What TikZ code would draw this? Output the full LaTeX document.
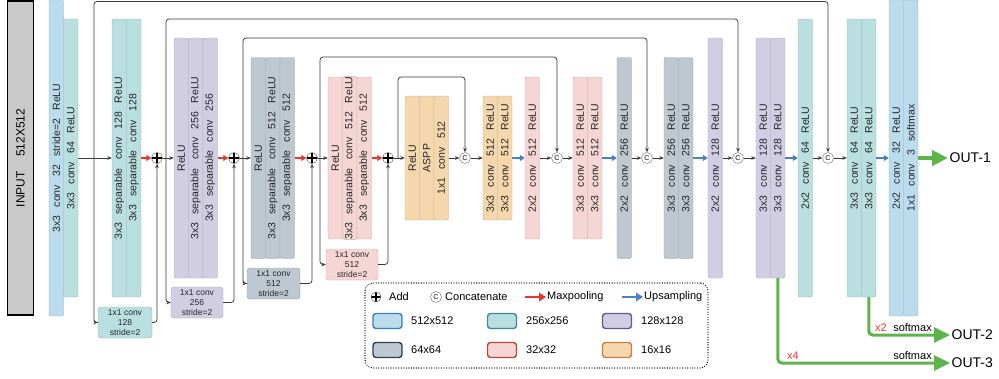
\documentclass[tikz,border=0pt]{standalone}
\usepackage{fontspec}
\setmainfont{Liberation Sans}
\usetikzlibrary{arrows.meta}

% level colours (fill) and legend edge colours
\definecolor{fA}{HTML}{BADCEC}
\definecolor{fB}{HTML}{B9DFE0}
\definecolor{fC}{HTML}{D1CEE3}
\definecolor{fD}{HTML}{BDC8D1}
\definecolor{fE}{HTML}{F5D6D4}
\definecolor{fF}{HTML}{F4D7AC}
\definecolor{kA}{HTML}{3B80B6}
\definecolor{kB}{HTML}{3A8C8F}
\definecolor{kC}{HTML}{5C5A95}
\definecolor{kD}{HTML}{2E3F50}
\definecolor{kE}{HTML}{B5463D}
\definecolor{kF}{HTML}{C67E36}
\definecolor{wirecol}{HTML}{383838}
\definecolor{poolred}{HTML}{E8362C}
\definecolor{upblue}{HTML}{4E7EC3}
\definecolor{outgreen}{HTML}{5DB44B}
\definecolor{inputgray}{HTML}{C9C9C9}

\newcommand{\blkfont}{\fontsize{10.5}{12}\selectfont\spaceskip=0.8em\relax}

\tikzset{
  blk/.style={rotate=90, rounded corners=2pt, inner sep=0pt, fill=f#1,
    draw=f#1!82!black, line width=0.45pt, minimum height=14.5pt,
    font=\blkfont, text=black!85},
  lvA/.style={blk=A, minimum width=316pt},
  lvB/.style={blk=B, minimum width=278pt},
  lvC/.style={blk=C, minimum width=240pt},
  lvD/.style={blk=D, minimum width=201pt},
  lvE/.style={blk=E, minimum width=162pt},
  lvF/.style={blk=F, minimum width=124pt},
  res/.style={rounded corners=3pt, fill=f#1, draw=f#1!82!black, line width=0.45pt,
    minimum width=53pt, minimum height=31pt, inner sep=0pt, align=center,
    font=\fontsize{8.5}{10}\selectfont, text=black!85},
  wire/.style={draw=wirecol, line width=0.75pt, -{Stealth[length=4.5pt,width=3.6pt]}},
  skipline/.style={wire, rounded corners=3pt},
  pool/.style={draw=poolred, line width=1.8pt, -{Triangle[length=5pt,width=6pt]}},
  up/.style={draw=upblue, line width=1.8pt, -{Triangle[length=5pt,width=6pt]}},
  addop/.style={circle, draw=black!60, fill=white, line width=0.5pt, minimum size=11pt,
    inner sep=0pt, path picture={\draw[black, line width=1.4pt]
      (path picture bounding box.north) -- (path picture bounding box.south)
      (path picture bounding box.west) -- (path picture bounding box.east);}},
  catop/.style={circle, draw=black!55, fill=white, line width=0.45pt, minimum size=11pt,
    inner sep=0pt, font=\fontsize{7}{7}\selectfont},
  outarrow/.style={draw=outgreen, line width=#1, -{Triangle[length=16pt,width=15pt]}},
  outtxt/.style={anchor=west, inner sep=1.5pt, font=\fontsize{14}{14}\selectfont},
  legtxt/.style={anchor=west, inner sep=0pt, font=\fontsize{11}{12}\selectfont},
  smalltxt/.style={inner sep=0pt, font=\fontsize{11}{12}\selectfont},
  swatch/.style={rounded corners=3pt, fill=f#1, draw=k#1, line width=1.4pt,
    minimum width=29pt, minimum height=15pt, inner sep=0pt},
}

\begin{document}
\begin{tikzpicture}[x=1pt, y=-1pt]
\useasboundingbox (0,0) rectangle (999,378);

% input
\node[rotate=90, draw=black, line width=1.5pt, fill=inputgray, minimum width=314pt,
  minimum height=26pt, inner sep=0pt, font=\fontsize{12}{14}\selectfont]
  (input) at (20.5,158) {INPUT\hspace{1.2em}512X512};

% encoder
\node[lvA] (b1) at (56.25,158) {3x3 conv 32 stride=2 ReLU};
\node[lvB] (b2) at (70.75,158) {3x3 conv 64 ReLU};
\node[lvB] (b3) at (119.25,158) {3x3 separable conv 128 ReLU};
\node[lvB] (b4) at (133.75,158) {3x3 separable conv 128};
\node[lvC] (b5) at (181.25,158) {ReLU};
\node[lvC] (b6) at (195.75,158) {3x3 separable conv 256 ReLU};
\node[lvC] (b7) at (210.25,158) {3x3 separable conv 256};
\node[lvD] (b8) at (258.25,158) {ReLU};
\node[lvD] (b9) at (272.75,158) {3x3 separable conv 512 ReLU};
\node[lvD] (b10) at (287.25,158) {3x3 separable conv 512};
\node[lvE] (b11) at (335.25,158) {ReLU};
\node[lvE] (b12) at (349.75,158) {3x3 separable conv 512 ReLU};
\node[lvE] (b13) at (364.25,158) {3x3 separable conv 512};
\node[lvF] (b14) at (412.25,158) {ReLU};
\node[lvF] (b15) at (426.75,158) {ASPP};
\node[lvF] (b16) at (441.25,158) {1x1 conv 512};

% decoder
\node[lvF] (b17) at (490.25,158) {3x3 conv 512 ReLU};
\node[lvF] (b18) at (504.75,158) {3x3 conv 512 ReLU};
\node[lvE] (b19) at (532.25,158) {2x2 conv 512 ReLU};
\node[lvE] (b20) at (580.25,158) {3x3 conv 512 ReLU};
\node[lvE] (b21) at (594.75,158) {3x3 conv 512 ReLU};
\node[lvD] (b22) at (624.25,158) {2x2 conv 256 ReLU};
\node[lvD] (b23) at (671.25,158) {3x3 conv 256 ReLU};
\node[lvD] (b24) at (685.75,158) {3x3 conv 256 ReLU};
\node[lvC] (b25) at (715.25,158) {2x2 conv 128 ReLU};
\node[lvC] (b26) at (763.25,158) {3x3 conv 128 ReLU};
\node[lvC] (b27) at (777.75,158) {3x3 conv 128 ReLU};
\node[lvB] (b28) at (805.25,158) {2x2 conv 64 ReLU};
\node[lvB] (b29) at (854.25,158) {3x3 conv 64 ReLU};
\node[lvB] (b30) at (868.75,158) {3x3 conv 64 ReLU};
\node[lvA] (b31) at (896.25,158) {2x2 conv 32 ReLU};
\node[lvA] (b32) at (910.75,158) {1x1 conv 3 softmax};

% residual 1x1 convolutions
\node[res=B, minimum width=54pt] (r1) at (125,322.5) {1x1 conv\\128\\stride=2};
\node[res=C, minimum width=52pt] (r2) at (197,302.5) {1x1 conv\\256\\stride=2};
\node[res=D] (r3) at (273.5,283.5) {1x1 conv\\512\\stride=2};
\node[res=E, minimum width=52pt] (r4) at (352,264.5) {1x1 conv\\512\\stride=2};

% add and concatenate operators
\node[addop] (a1) at (157,158) {};
\node[addop] (a2) at (234,158) {};
\node[addop] (a3) at (312,158) {};
\node[addop] (a4) at (388,158) {};
\node[catop] (c1) at (465,158) {C};
\node[catop] (c2) at (557,158) {C};
\node[catop] (c3) at (647,158) {C};
\node[catop] (c4) at (738,158) {C};
\node[catop] (c5) at (828,158) {C};

% branch points and skip corners
\coordinate (s1) at (94,158);
\coordinate (s2) at (166,158);
\coordinate (s3) at (243,158);
\coordinate (s4) at (320,158);
\coordinate (s5) at (398,158);
\coordinate (t1) at (828,1.5);
\coordinate (t2) at (738,19);
\coordinate (t3) at (647,38);
\coordinate (t4) at (557,57);
\coordinate (t5) at (465,77);

% main path
\draw[wire] (b2) -- (b3);
\draw[pool] (b4) -- (a1);
\draw[wire] (a1) -- (b5);
\draw[pool] (b7) -- (a2);
\draw[wire] (a2) -- (b8);
\draw[pool] (b10) -- (a3);
\draw[wire] (a3) -- (b11);
\draw[pool] (b13) -- (a4);
\draw[wire] (a4) -- (b14);
\draw[wire] (b16) -- (c1);
\draw[wire] (c1) -- (b17);
\draw[up] (b18) -- (b19);
\draw[wire] (b19) -- (c2);
\draw[wire] (c2) -- (b20);
\draw[up] (b21) -- (b22);
\draw[wire] (b22) -- (c3);
\draw[wire] (c3) -- (b23);
\draw[up] (b24) -- (b25);
\draw[wire] (b25) -- (c4);
\draw[wire] (c4) -- (b26);
\draw[up] (b27) -- (b28);
\draw[wire] (b28) -- (c5);
\draw[wire] (c5) -- (b29);
\draw[up] (b30) -- (b31);

% long skip connections
\draw[skipline] (s1) |- (t1) -- (c5);
\draw[skipline] (s2) |- (t2) -- (c4);
\draw[skipline] (s3) |- (t3) -- (c3);
\draw[skipline] (s4) |- (t4) -- (c2);
\draw[skipline] (s5) |- (t5) -- (c1);

% residual branches
\draw[skipline] (s1) |- (r1);
\draw[skipline] (r1) -| (a1);
\draw[skipline] (s2) |- (r2);
\draw[skipline] (r2) -| (a2);
\draw[skipline] (s3) |- (r3);
\draw[skipline] (r3) -| (a3);
\draw[skipline] (s4) |- (r4);
\draw[skipline] (r4) -| (a4);

% outputs
\node[outtxt] (out1) at (948,158) {OUT-1};
\node[outtxt] (out2) at (950,335) {OUT-2};
\node[outtxt] (out3) at (950,363) {OUT-3};
\draw[outarrow=4pt] (b32) -- (out1);
\draw[outarrow=3pt, rounded corners=4pt] (b30.west) |- (out2);
\draw[outarrow=3pt, rounded corners=4pt] (b27.west) |- (out3);
\node[smalltxt, text=poolred] (x2) at (881,328) {x2};
\node[smalltxt] (sm2) at (912.5,328) {softmax};
\node[smalltxt, text=poolred] (x4) at (793,356) {x4};
\node[smalltxt] (sm3) at (912.5,356) {softmax};

% legend
\node[draw=black, line width=1.3pt, dash pattern=on 0.01pt off 2.5pt, line cap=round,
  rounded corners=8pt, minimum width=343pt, minimum height=85pt]
  (legend) at (536.5,325.5) {};
\node[addop, minimum size=10pt] (kadd) at (376,297) {};
\node[legtxt] (tadd) at (389,297) {Add};
\node[catop] (kcat) at (436,297) {C};
\node[legtxt] (tcat) at (445,297) {Concatenate};
\coordinate (kp0) at (525,297);
\coordinate (kp1) at (546,297);
\draw[draw=poolred, line width=2.4pt, -{Triangle[length=7pt,width=8.5pt]}] (kp0) -- (kp1);
\node[legtxt] (tpool) at (547,297) {Maxpooling};
\coordinate (ku0) at (622,297);
\coordinate (ku1) at (643,297);
\draw[draw=upblue, line width=2.4pt, -{Triangle[length=7pt,width=8.5pt]}] (ku0) -- (ku1);
\node[legtxt] (tup) at (644,297) {Upsampling};

\node[swatch=A] (kA) at (387.5,321) {};
\node[legtxt] (tA) at (411,321) {512x512};
\node[swatch=B] (kB) at (502,321) {};
\node[legtxt] (tB) at (526,321) {256x256};
\node[swatch=C] (kC) at (617,321) {};
\node[legtxt] (tC) at (641,321) {128x128};
\node[swatch=D] (kD) at (387.5,350) {};
\node[legtxt] (tD) at (411,350) {64x64};
\node[swatch=E] (kE) at (502,350) {};
\node[legtxt] (tE) at (526,350) {32x32};
\node[swatch=F] (kF) at (617,350) {};
\node[legtxt] (tF) at (641,350) {16x16};
\end{tikzpicture}
\end{document}
